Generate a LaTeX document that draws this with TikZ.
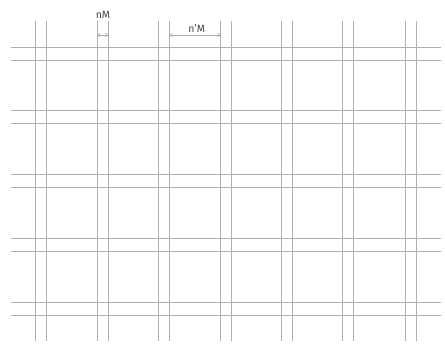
\documentclass[tikz,border=0pt]{standalone}
\usepackage{fontspec}
\setmainfont{Fira Sans}
\usetikzlibrary{arrows.meta}
\definecolor{gridc}{HTML}{B5ADA9}
\definecolor{arrc}{HTML}{B0ABA9}
\definecolor{txt}{HTML}{454545}
\tikzset{
  gridline/.style={draw=gridc, line width=1pt},
  dimarrow/.style={draw=arrc, line width=0.6pt, {Straight Barb[length=2.5pt,width=4pt]}-{Straight Barb[length=2.5pt,width=4pt]}},
  lbl/.style={text=txt, font=\fontsize{10.5}{12}\selectfont, inner sep=0pt}
}
\begin{document}
\begin{tikzpicture}[x=1pt,y=-1pt]
\useasboundingbox (0,0) rectangle (445,344);
% vertical pairs
\foreach \x in {35.7,97.3,158.7,220.7,281.7,342.7,405}{
  \draw[gridline] (\x,21) -- (\x,341);
  \draw[gridline] (\x+11,21) -- (\x+11,341);
}
% horizontal pairs
\foreach \y in {47.5,111,175,239,303}{
  \draw[gridline] (10.5,\y) -- (440.5,\y);
  \draw[gridline] (10.5,\y+13) -- (440.5,\y+13);
}
% dimension arrows
\coordinate (a1) at (97.3,35);
\coordinate (a2) at (108.3,35);
\coordinate (b1) at (169.7,35);
\coordinate (b2) at (220.7,35);
\draw[dimarrow] (a1) -- (a2);
\draw[dimarrow] (b1) -- (b2);
\node[lbl] (nM) at (103,15) {nM};
\node[lbl] (npM) at (196.7,29) {n’M};
\end{tikzpicture}
\end{document}
